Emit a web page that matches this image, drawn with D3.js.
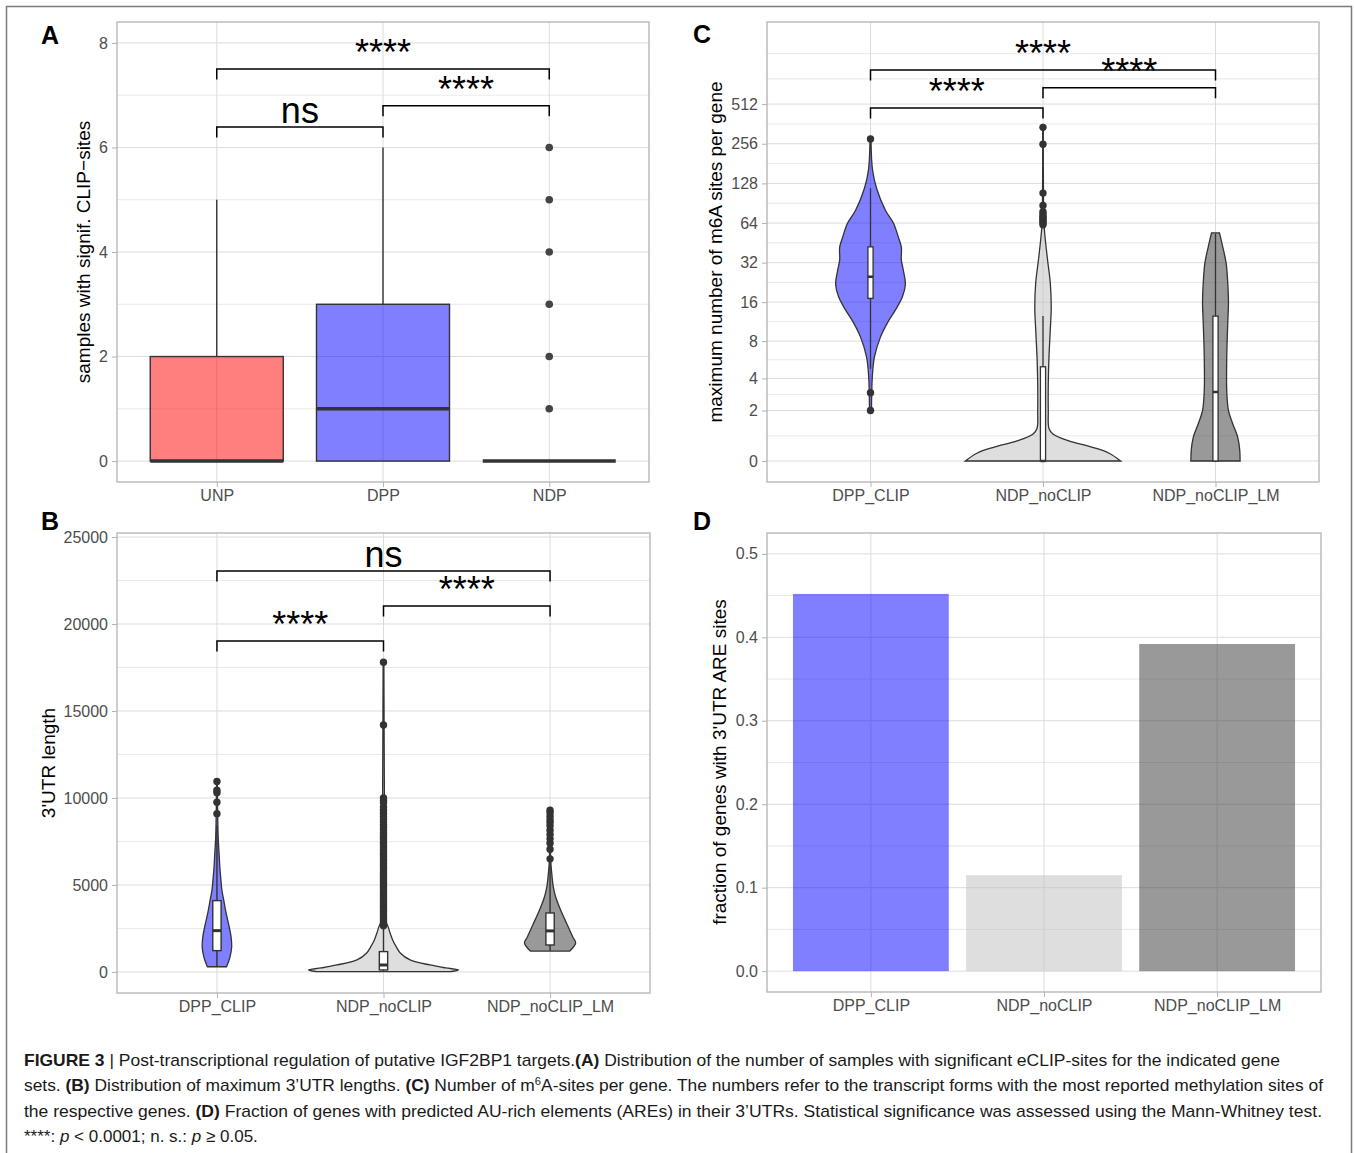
<!DOCTYPE html>
<html>
<head>
<meta charset="utf-8">
<script src="https://cdn.jsdelivr.net/npm/d3@7"></script>
<style>
  body { margin: 0; background: #fff; }
</style>
</head>
<body>
<svg id="fig" width="1354" height="1153"></svg>
<script>
// ---------- data ----------
// A: samples with significant CLIP sites (boxplot stats)
const clipSets = ["UNP", "DPP", "NDP"];
const clipQ1 = [0, 0, 0];
const clipMedian = [0, 1, 0];
const clipQ3 = [2, 3, 0];
const clipWhiskerLo = [0, 0, 0];
const clipWhiskerHi = [5, 6, 0];
const clipOutliers = [[], [], [1, 2, 3, 4, 5, 6]];
const clipTicks = [0, 2, 4, 6, 8];
const clipBrackets = [["UNP", "NDP", 7.5, "****"], ["DPP", "NDP", 6.8, "****"], ["UNP", "DPP", 6.39, "ns"]];

const geneSets = ["DPP_CLIP", "NDP_noCLIP", "NDP_noCLIP_LM"];

// B: 3'UTR length — violin profiles [value, relative density]
const utrTicks = [0, 5000, 10000, 15000, 20000, 25000];
const utrViolinDppClip = [[300, 0.128], [800, 0.171], [1450, 0.197], [2030, 0.188], [2700, 0.158], [3390, 0.122],
  [4100, 0.092], [4710, 0.066], [5290, 0.053], [6000, 0.039], [6700, 0.030], [7700, 0.017], [8700, 0.011], [10950, 0.004]];
const utrViolinNoClip = [[20, 0.9], [115, 1.0], [230, 0.83], [400, 0.62], [690, 0.355], [1090, 0.224], [1440, 0.171],
  [1840, 0.122], [2240, 0.088], [2590, 0.062], [2820, 0.04], [3500, 0.022], [6000, 0.018], [10000, 0.012], [14200, 0.008], [17850, 0.005]];
const utrViolinNoClipLM = [[1200, 0.263], [1670, 0.342], [2010, 0.303], [2800, 0.22], [3560, 0.141], [4310, 0.075],
  [4890, 0.043], [5690, 0.022], [6440, 0.009], [9300, 0.004]];
const utrQ1 = [1225, 115, 1550];
const utrMedian = [2375, 400, 2360];
const utrQ3 = [4100, 1170, 3390];
const utrWhiskerLo = [330, 20, 1200];
const utrWhiskerHi = [8400, 2700, 6300];
const utrOutliers = [
  [9100, 9750, 10300, 10450, 10950],
  [2650, 2760, 2880, 2990, 3100, 3230, 3350, 3470, 3590, 3720, 3850, 3960, 4080, 4210, 4330, 4460, 4590, 4710,
   4840, 4960, 5090, 5210, 5340, 5470, 5590, 5720, 5860, 5980, 6110, 6240, 6370, 6500, 6640, 6770, 6900, 7040,
   7180, 7310, 7450, 7600, 7740, 7880, 8020, 8170, 8330, 8480, 8640, 8800, 8950, 9120, 9300, 9480, 9720, 9850,
   10000, 14200, 17800],
  [6500, 7050, 7400, 7650, 7900, 8150, 8400, 8600, 8750, 8950, 9150, 9300]
];
const utrBrackets = [["DPP_CLIP", "NDP_noCLIP_LM", 23050, "ns"], ["NDP_noCLIP", "NDP_noCLIP_LM", 21030, "****"], ["DPP_CLIP", "NDP_noCLIP", 19020, "****"]];

// C: maximum number of m6A sites per gene (pseudo-log2 axis)
const m6aTicks = [0, 2, 4, 8, 16, 32, 64, 128, 256, 512];
const m6aViolinDppClip = [[2, 0.013], [4.1, 0.023], [6, 0.051], [8.6, 0.128], [11.1, 0.218], [13.9, 0.32], [17.5, 0.41],
  [21.7, 0.449], [28, 0.423], [33.6, 0.397], [42, 0.397], [50, 0.359], [64, 0.295], [80, 0.192], [118, 0.077], [162, 0.026], [278, 0.006]];
const m6aViolinNoClip = [[0, 1.0], [0.28, 0.846], [0.49, 0.628], [0.72, 0.333], [0.98, 0.128], [1.2, 0.077], [2, 0.068],
  [3.6, 0.068], [6, 0.077], [9.8, 0.094], [14.7, 0.106], [22.4, 0.094], [35, 0.055], [60, 0.015], [100, 0.006], [350, 0.004]];
const m6aViolinNoClipLM = [[0, 0.317], [0.39, 0.312], [0.86, 0.286], [1.43, 0.218], [2.0, 0.167], [3.1, 0.145], [6.0, 0.145],
  [11.1, 0.158], [15.8, 0.167], [22.4, 0.158], [31.7, 0.137], [42, 0.094], [53.8, 0.051]];
const m6aQ1 = [17.1, 0, 0];
const m6aMedian = [25, 0, 3.04];
const m6aQ3 = [42.2, 5, 12.5];
const m6aWhiskerLo = [4.8, 0, 0];
const m6aWhiskerHi = [117.5, 12.5, 53];
const m6aOutliers = [[2, 3, 278], [62, 64, 66, 68, 70, 72, 75, 78, 87, 108, 254, 341], []];
const m6aBrackets = [["DPP_CLIP", "NDP_noCLIP_LM", 929, "****"], ["NDP_noCLIP", "NDP_noCLIP_LM", 680, "****"], ["DPP_CLIP", "NDP_noCLIP", 478, "****"]];

// D: fraction of genes with 3'UTR ARE sites
const areTicks = [0, 0.1, 0.2, 0.3, 0.4, 0.5];
const areFraction = [0.452, 0.115, 0.392];

const clipColors = ["#ff0000", "#0000ff", "#ffffff"];
const setColors = ["#0000ff", "#bebebe", "#333333"];

// ---------- drawing ----------
const font = '"Liberation Sans", Arial, Helvetica, sans-serif';
const svg = d3.select("#fig").attr("font-family", font);
const pl = v => Math.asinh(v / 2) / Math.LN2;   // pseudo-log2 transform

// figure frame
svg.append("rect").attr("x", 6.5).attr("y", 6.5).attr("width", 1345).attr("height", 1200)
  .attr("fill", "none").attr("stroke", "#7a7a7a").attr("stroke-width", 1.5);

function minorBreaks(major, dom) {
  const b = major.slice(), bd = b[1] - b[0];
  if (dom[0] < b[0]) b.unshift(b[0] - bd);
  if (dom[1] > b[b.length - 1]) b.push(b[b.length - 1] + bd);
  const out = [];
  for (let i = 0; i < b.length - 1; i++) out.push((b[i] + b[i + 1]) / 2);
  out.push(b[0], b[b.length - 1]);
  return out.filter(v => v > dom[0] && v < dom[1]);
}

function makePanel(p) {
  const x = d3.scalePoint().domain(p.cats).range([p.left, p.right]).padding(0.6);
  const y = d3.scaleLinear().domain(p.domain).range([p.bottom, p.top]);
  const g = svg.append("g");
  g.append("g").selectAll("line").data(minorBreaks(p.major, p.domain)).join("line")
    .attr("x1", p.left).attr("x2", p.right).attr("y1", d => y(d)).attr("y2", d => y(d))
    .attr("stroke", "#e3e3e3").attr("stroke-width", 0.8);
  g.append("g").selectAll("line").data(p.major).join("line")
    .attr("x1", p.left).attr("x2", p.right).attr("y1", d => y(d)).attr("y2", d => y(d))
    .attr("stroke", "#dcdcdc").attr("stroke-width", 1);
  g.append("g").selectAll("line").data(p.cats).join("line")
    .attr("y1", p.top).attr("y2", p.bottom).attr("x1", d => x(d)).attr("x2", d => x(d))
    .attr("stroke", "#dcdcdc").attr("stroke-width", 1);
  return { g, x, y };
}

function finishPanel(p, x, y) {
  svg.append("rect").attr("x", p.left).attr("y", p.top)
    .attr("width", p.right - p.left).attr("height", p.bottom - p.top)
    .attr("fill", "none").attr("stroke", "#b3b3b3").attr("stroke-width", 1.3);

  const ay = svg.append("g").attr("transform", `translate(${p.left},0)`)
    .call(d3.axisLeft(y).tickValues(p.major).tickFormat((d, i) => p.labels[i]).tickSize(5).tickPadding(4));
  const ax = svg.append("g").attr("transform", `translate(0,${p.bottom})`)
    .call(d3.axisBottom(x).tickSize(5).tickPadding(3));
  [ay, ax].forEach(a => {
    a.attr("font-family", font).attr("font-size", 16);
    a.select(".domain").remove();
    a.selectAll(".tick line").attr("stroke", "#b3b3b3");
    a.selectAll(".tick text").attr("fill", "#4d4d4d");
  });

  svg.append("text").attr("x", p.letterPos[0]).attr("y", p.letterPos[1])
    .attr("font-size", 25).attr("font-weight", "bold").text(p.letter);
  svg.append("text").attr("transform", `translate(${p.titlePos[0]},${p.titlePos[1]}) rotate(-90)`)
    .attr("text-anchor", "middle").attr("font-size", 19).text(p.title);
}

function drawBrackets(brackets, x, yv) {
  const tip = 10.5;
  const g = svg.append("g");
  brackets.forEach(([a, b, v, label]) => {
    const x1 = x(a), x2 = x(b), yy = yv(v);
    g.append("path").attr("d", `M${x1},${yy + tip}V${yy}H${x2}V${yy + tip}`)
      .attr("fill", "none").attr("stroke", "#000").attr("stroke-width", 1.5);
    g.append("text").attr("x", (x1 + x2) / 2).attr("y", yy - 4).attr("text-anchor", "middle")
      .attr("font-size", 36).text(label);
  });
}

function drawBox(g, cx, half, yv, q1, med, q3, lo, hi, fill, opacity, sw, medW) {
  g.append("line").attr("x1", cx).attr("x2", cx).attr("y1", yv(q3)).attr("y2", yv(hi))
    .attr("stroke", "#333").attr("stroke-width", sw);
  g.append("line").attr("x1", cx).attr("x2", cx).attr("y1", yv(q1)).attr("y2", yv(lo))
    .attr("stroke", "#333").attr("stroke-width", sw);
  g.append("rect").attr("x", cx - half).attr("width", 2 * half)
    .attr("y", yv(q3)).attr("height", Math.max(0, yv(q1) - yv(q3)))
    .attr("fill", fill).attr("fill-opacity", opacity).attr("stroke", "#333").attr("stroke-width", sw);
  g.append("line").attr("x1", cx - half).attr("x2", cx + half).attr("y1", yv(med)).attr("y2", yv(med))
    .attr("stroke", "#333").attr("stroke-width", medW);
}

function drawViolin(g, cx, yv, profile, hw, fill) {
  const area = d3.area()
    .y(d => yv(d[0]))
    .x0(d => cx - hw(d[1]))
    .x1(d => cx + hw(d[1]))
    .curve(d3.curveCatmullRom.alpha(0.5));
  g.append("path").datum(profile).attr("d", area)
    .attr("fill", fill).attr("fill-opacity", 0.5)
    .attr("stroke", "#333").attr("stroke-width", 1.3);
}

function drawPoints(g, cx, yv, vals, r, color) {
  g.append("g").selectAll("circle").data(vals).join("circle")
    .attr("cx", cx).attr("cy", d => yv(d)).attr("r", r).attr("fill", color);
}

// ---- Panel A ----
const pA = { left: 117, top: 22, right: 649, bottom: 482, cats: clipSets, domain: [-0.4, 8.4],
  major: clipTicks, labels: clipTicks.map(String), letter: "A", letterPos: [41, 44],
  title: "samples with signif. CLIP\u2212sites", titlePos: [90, 252] };
{
  const { g, x, y } = makePanel(pA);
  const half = x.step() * 0.4;
  clipSets.forEach((c, i) => {
    drawBox(g, x(c), half, y, clipQ1[i], clipMedian[i], clipQ3[i], clipWhiskerLo[i], clipWhiskerHi[i],
      clipColors[i], 0.5, 1.4, 3.5);
    drawPoints(g, x(c), y, clipOutliers[i], 3.8, "#444");
  });
  finishPanel(pA, x, y);
  drawBrackets(clipBrackets, x, y);
}

// ---- Panel B ----
const pB = { left: 117, top: 533, right: 650, bottom: 993, cats: geneSets, domain: [-1210, 25230],
  major: utrTicks, labels: utrTicks.map(String), letter: "B", letterPos: [41, 530],
  title: "3'UTR length", titlePos: [55, 763] };
{
  const { g, x, y } = makePanel(pB);
  const hw = d => d * 0.45 * x.step();
  const half = x.step() * 0.025;
  [utrViolinDppClip, utrViolinNoClip, utrViolinNoClipLM].forEach((prof, i) => {
    const c = geneSets[i];
    drawViolin(g, x(c), y, prof, hw, setColors[i]);
    drawBox(g, x(c), half, y, utrQ1[i], utrMedian[i], utrQ3[i], utrWhiskerLo[i], utrWhiskerHi[i], "#fff", 1, 1.4, 3);
    drawPoints(g, x(c), y, utrOutliers[i], 3.7, "#333");
  });
  finishPanel(pB, x, y);
  drawBrackets(utrBrackets, x, y);
}

// ---- Panel C ----
const pC = { left: 767, top: 22, right: 1319, bottom: 482, cats: geneSets, domain: [-0.53, 11.07],
  major: m6aTicks.map(pl), labels: m6aTicks.map(String), letter: "C", letterPos: [693, 43],
  title: "maximum number of m6A sites per gene", titlePos: [722, 252] };
{
  const { g, x, y } = makePanel(pC);
  const yv = v => y(pl(v));
  const hw = d => d * 0.45 * x.step();
  const half = x.step() * 0.015;
  [m6aViolinDppClip, m6aViolinNoClip, m6aViolinNoClipLM].forEach((prof, i) => {
    const c = geneSets[i];
    drawViolin(g, x(c), yv, prof, hw, setColors[i]);
    drawBox(g, x(c), half, yv, m6aQ1[i], m6aMedian[i], m6aQ3[i], m6aWhiskerLo[i], m6aWhiskerHi[i], "#fff", 1, 1.3, 2.5);
    drawPoints(g, x(c), yv, m6aOutliers[i], 3.7, "#333");
  });
  finishPanel(pC, x, y);
  drawBrackets(m6aBrackets, x, yv);
}

// ---- Panel D ----
const pD = { left: 767, top: 533, right: 1321, bottom: 992, cats: geneSets, domain: [-0.025, 0.525],
  major: areTicks, labels: areTicks.map(d3.format(".1f")), letter: "D", letterPos: [693, 530],
  title: "fraction of genes with 3'UTR ARE sites", titlePos: [726, 762] };
{
  const { g, x, y } = makePanel(pD);
  const bw = x.step() * 0.9;
  g.append("g").selectAll("rect").data(areFraction).join("rect")
    .attr("x", (d, i) => x(geneSets[i]) - bw / 2).attr("width", bw)
    .attr("y", d => y(d)).attr("height", d => y(0) - y(d))
    .attr("fill", (d, i) => setColors[i]).attr("fill-opacity", 0.5);
  finishPanel(pD, x, y);
}

// ---- caption ----
const captionLines = [
  [["FIGURE 3 ", "b"], ["| ", ""], ["Post-transcriptional regulation of putative IGF2BP1 targets.", ""], ["(A)", "b"],
   [" Distribution of the number of samples with significant eCLIP-sites for the indicated gene", ""]],
  [["sets. ", ""], ["(B)", "b"], [" Distribution of maximum 3\u2019UTR lengths. ", ""], ["(C)", "b"], [" Number of m", ""], ["6", "sup"],
   ["A-sites per gene. The numbers refer to the transcript forms with the most reported methylation sites of", ""]],
  [["the respective genes. ", ""], ["(D)", "b"],
   [" Fraction of genes with predicted AU-rich elements (AREs) in their 3\u2019UTRs. Statistical significance was assessed using the Mann-Whitney test.", ""]],
  [["****: ", ""], ["p", "i"], [" < 0.0001; n. s.: ", ""], ["p", "i"], [" \u2265 0.05.", ""]]
];
const captionWidths = [1256, 1299, 1298, null];
const cap = svg.append("g").attr("font-size", 17).attr("fill", "#1a1a1a");
captionLines.forEach((segs, i) => {
  const t = cap.append("text").attr("x", 24).attr("y", 1066 + i * 25.3);
  if (captionWidths[i]) t.attr("textLength", captionWidths[i]).attr("lengthAdjust", "spacingAndGlyphs");
  segs.forEach(([s, st]) => {
    const ts = t.append("tspan").text(s);
    if (st === "b") ts.attr("font-weight", "bold");
    if (st === "i") ts.attr("font-style", "italic");
    if (st === "sup") ts.attr("baseline-shift", "super").attr("font-size", 11);
  });
});
</script>
</body>
</html>
